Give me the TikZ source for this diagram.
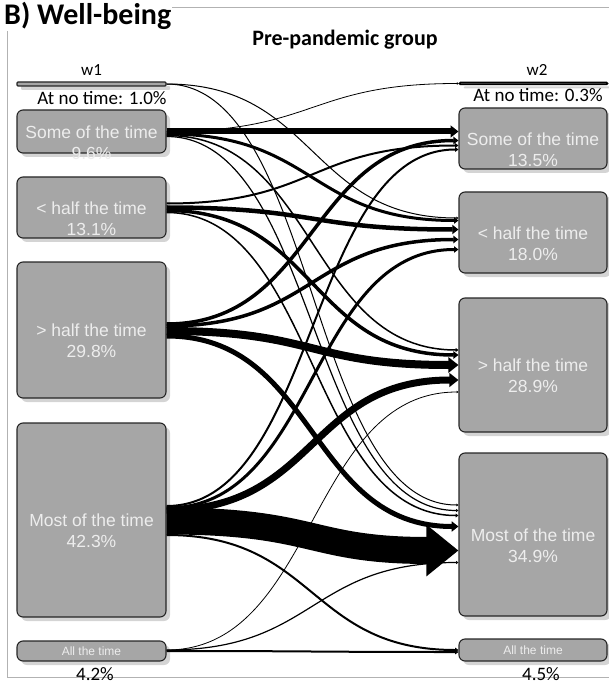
\documentclass[tikz,border=0pt]{standalone}
\usepackage{fontspec}
\setmainfont{Carlito}
\newfontfamily\arialfont{Liberation Sans}
\usetikzlibrary{calc,arrows.meta,shadows}
\definecolor{boxgray}{HTML}{A6A6A6}
\definecolor{boxwhite}{HTML}{EDEDED}

\begin{document}
\begin{tikzpicture}[x=1pt,y=-1pt]
\useasboundingbox (0,0) rectangle (609,684);
\tikzstyle{box}=[draw=black!85,line width=1.1pt,fill=boxgray,rounded corners=6pt,inner sep=0pt,
  copy shadow={shadow xshift=4pt,shadow yshift=-4pt,draw=none,fill=black!17}]
\tikzstyle{boxtxt}=[text=boxwhite,font=\arialfont\fontsize{17.5}{21}\selectfont,align=center,yshift=-11pt]
\tikzstyle{smalltxt}=[text=boxwhite,font=\arialfont\fontsize{12}{14}\selectfont]
\tikzstyle{outer}=[font=\fontsize{19}{21}\selectfont,inner sep=0pt]
\tikzstyle{flow}=[-{Triangle[length=1pt 1.15,width=1pt 1.8]}]

% frame and titles
\draw[black!30] (609,7) -- (7,7) -- (7,677) -- (609,677);
\node[fill=white,anchor=west,inner sep=1pt,font=\bfseries\fontsize{30}{32}\selectfont] (title) at (3,16) {B) Well-being};
\node[font=\bfseries\fontsize{22}{24}\selectfont] (group) at (345,40) {Pre-pandemic group};

% wave 1 and wave 2 boxes
  \foreach \name/\y/\h/\lbl in {l1/131.5/43/{Some of the time\\9.6\%}, l2/207.5/61/{< half the time\\13.1\%},
      l3/330/136/{> half the time\\29.8\%}, l4/520/194/{Most of the time\\42.3\%}}
    \node[box,minimum width=149pt,minimum height=\h pt,label={[boxtxt]center:\lbl}] (\name) at (91.5,\y) {};
  \foreach \name/\y/\h/\lbl in {r1/138.5/61/{Some of the time\\13.5\%}, r2/232.5/81/{< half the time\\18.0\%},
      r3/365/134/{> half the time\\28.9\%}, r4/534.5/163/{Most of the time\\34.9\%}}
    \node[box,minimum width=148pt,minimum height=\h pt,label={[boxtxt]center:\lbl}] (\name) at (533,\y) {};
\node[box,rounded corners=1pt,minimum width=149pt,minimum height=4pt] (l0) at (91.5,84) {};
\node[box,draw=black,line width=1.5pt,rounded corners=1pt,minimum width=148pt,minimum height=2pt] (r0) at (533.5,83.5) {};
\node[box,minimum width=149pt,minimum height=20pt,label={[smalltxt]center:All the time}] (l5) at (91.5,651) {};
\node[box,minimum width=148pt,minimum height=22pt,label={[smalltxt]center:All the time}] (r5) at (533,650) {};

% wave labels
\node[outer,font=\fontsize{17}{19}\selectfont] (w1) at (91.5,70) {w1};
\node[outer,font=\fontsize{17}{19}\selectfont] (w2) at (537,70) {w2};
\node[outer] (l0txt) at (102,98) {At no time: 1.0\%};
\node[outer] (r0txt) at (538,95) {At no time: 0.3\%};
\node[outer] (l5txt) at (95,674) {4.2\%};
\node[outer] (r5txt) at (541,674) {4.5\%};

% flows
  \foreach \from/\a/\to/\b/\w in {l0/0/r2/-14.5/1, l0/0/r4/-29.5/1,
      l1/0/r0/0/0.8, l1/0/r1/-7/6, l1/2.5/r2/-12/3, l1/4/r3/-15/1.5, l1/5/r4/-24/1.2,
      l2/-4/r1/7/2, l2/0/r2/-3/4.5, l2/3/r3/-10/3.5, l2/5/r4/-19/1.5,
      l3/-6/r1/2/3.5, l3/-4/r2/7/3.5, l3/1/r3/0/8, l3/6/r4/-8/5,
      l4/-14/r1/11/2, l4/-12/r2/17/3, l4/-10/r3/15/7, l4/1/r4/16/27, l4/15/r5/0/2,
      l5/-1/r3/27/0.8, l5/-1/r4/28/1.2, l5/0/r5/2/2}
    { \draw[flow,line width=\w pt] ($(\from.east)+(0,\a)$) .. controls +(150,0) and +(-150,0) .. ($(\to.west)+(0,\b)$); }

\end{tikzpicture}
\end{document}
